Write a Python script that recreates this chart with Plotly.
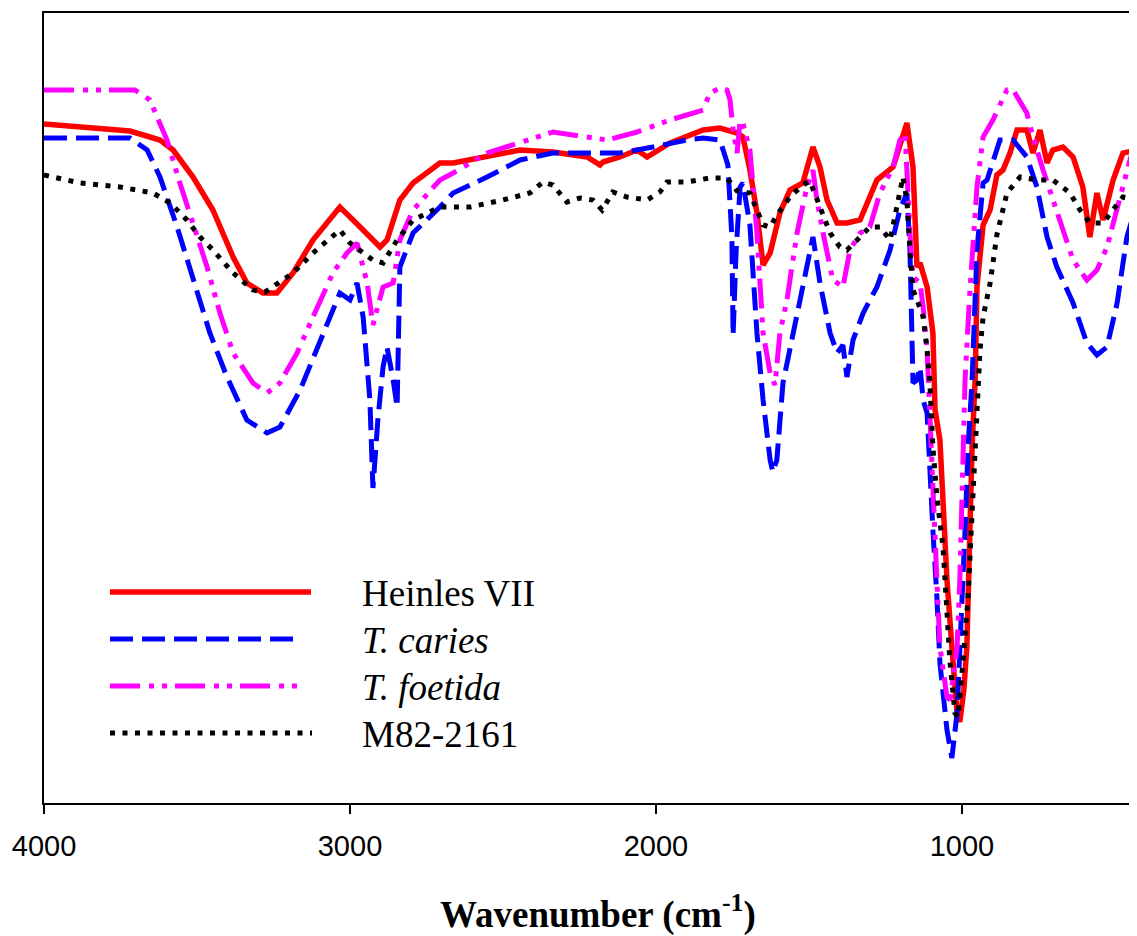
import plotly.graph_objects as go

# ---- data (wavenumber cm-1, relative transmittance) ----
heinles_x = [4000, 3817, 3719, 3654, 3621, 3578, 3513, 3448, 3382, 3337, 3284, 3239, 3186, 3121, 3033, 2967,
             2902, 2879, 2837, 2794, 2706, 2663, 2552, 2444, 2337, 2225, 2183, 2173, 2118, 2062, 2029, 1954,
             1846, 1791, 1735, 1716, 1693, 1670, 1650, 1627, 1595, 1562, 1520, 1487, 1464, 1441, 1408, 1376,
             1333, 1278, 1225, 1180, 1160, 1147, 1137, 1114, 1095, 1088, 1072, 1062, 1049, 1033, 1016, 1007,
             994, 984, 974, 967, 957, 951, 931, 908, 886, 866, 843, 820, 788, 768, 745, 722, 703, 670, 637,
             605, 582, 559, 539, 506, 474, 428]
heinles_y = [67.9, 67.5, 67.2, 66.6, 66.3, 65.3, 62.6, 59.3, 54.6, 52.0, 51.0, 51.0, 53.0, 56.3, 59.6, 57.6,
             55.6, 56.3, 60.3, 62.0, 64.0, 64.0, 64.6, 65.3, 65.1, 64.6, 63.8, 64.1, 64.6, 65.3, 64.6, 66.0,
             67.3, 67.5, 67.0, 66.6, 63.3, 59.0, 53.8, 55.0, 59.0, 61.3, 62.0, 65.6, 63.6, 60.3, 58.0, 58.0,
             58.3, 62.3, 63.6, 68.0, 63.6, 53.6, 54.0, 51.6, 47.0, 39.3, 36.3, 29.0, 22.3, 15.6, 9.0, 8.1,
             11.3, 15.6, 29.0, 35.6, 42.3, 51.6, 57.8, 59.3, 62.8, 63.3, 65.0, 67.3, 67.3, 65.0, 67.3, 64.0,
             65.3, 65.6, 64.6, 61.6, 56.6, 61.0, 58.3, 62.3, 65.0, 65.3]

caries_x = [4000, 3719, 3663, 3621, 3565, 3513, 3458, 3402, 3337, 3271, 3229, 3163, 3098, 3033, 3000, 2977,
            2957, 2935, 2925, 2909, 2892, 2879, 2859, 2846, 2837, 2794, 2706, 2663, 2552, 2444, 2337, 2118,
            2010, 1899, 1846, 1791, 1765, 1752, 1748, 1738, 1725, 1716, 1693, 1670, 1650, 1627, 1618, 1605,
            1585, 1552, 1520, 1487, 1464, 1431, 1408, 1389, 1376, 1356, 1323, 1278, 1235, 1203, 1180, 1170,
            1160, 1147, 1137, 1127, 1114, 1105, 1095, 1082, 1072, 1049, 1033, 1016, 1000, 990, 980, 967,
            951, 931, 918, 876, 833, 788, 755, 722, 690, 637, 592, 559, 526, 493, 461, 428]
caries_y = [66.5, 66.5, 65.3, 62.6, 57.6, 52.6, 47.0, 42.6, 38.3, 37.0, 37.6, 41.3, 46.3, 51.0, 50.3, 52.0,
            48.6, 40.3, 31.5, 38.3, 43.6, 45.6, 42.3, 39.6, 53.6, 57.0, 59.6, 61.0, 62.6, 64.3, 65.0, 65.0,
            65.6, 66.3, 66.5, 66.3, 63.8, 56.6, 46.8, 55.3, 61.6, 62.0, 57.8, 47.0, 40.3, 34.3, 33.1, 34.3,
            42.0, 47.0, 52.0, 56.6, 52.0, 47.0, 45.0, 45.8, 42.6, 46.3, 49.0, 51.6, 55.3, 59.3, 61.0, 55.3,
            42.0, 42.3, 43.6, 40.3, 39.0, 32.3, 27.3, 20.6, 14.0, 7.3, 4.5, 9.0, 19.0, 27.3, 35.6, 42.3,
            55.3, 62.0, 62.3, 66.3, 66.3, 64.6, 61.6, 56.6, 53.6, 50.0, 46.0, 44.8, 45.6, 50.0, 56.6, 60.0]

foetida_x = [4000, 3703, 3654, 3598, 3556, 3513, 3467, 3425, 3382, 3317, 3271, 3229, 3173, 3121, 3056, 3010,
             2977, 2944, 2925, 2892, 2859, 2837, 2794, 2706, 2663, 2552, 2444, 2337, 2225, 2160, 2062, 1954,
             1846, 1824, 1791, 1768, 1758, 1748, 1735, 1725, 1716, 1693, 1670, 1650, 1627, 1611, 1595, 1572,
             1539, 1507, 1487, 1474, 1454, 1422, 1389, 1366, 1333, 1301, 1268, 1225, 1203, 1186, 1170, 1160,
             1137, 1127, 1114, 1105, 1095, 1082, 1072, 1049, 1039, 1016, 1007, 1000, 997, 990, 974, 951, 931,
             899, 853, 833, 788, 768, 735, 690, 637, 592, 559, 526, 484, 451, 428]
foetida_y = [71.3, 71.3, 70.3, 66.3, 62.0, 58.0, 53.6, 49.0, 45.0, 42.0, 41.0, 42.0, 45.0, 48.6, 53.0, 55.0,
             56.0, 52.0, 47.8, 51.6, 52.0, 56.3, 59.3, 62.3, 63.0, 65.0, 66.0, 67.1, 66.6, 66.3, 67.1, 68.3,
             69.3, 71.0, 71.5, 71.3, 70.3, 67.3, 65.0, 68.3, 68.0, 65.3, 57.0, 47.0, 43.0, 41.8, 47.0, 50.3,
             57.0, 61.6, 63.3, 60.3, 57.0, 52.3, 51.6, 55.3, 57.0, 57.6, 61.0, 63.6, 66.3, 67.0, 57.0, 52.6,
             52.0, 49.6, 45.3, 38.3, 30.3, 22.3, 15.6, 10.6, 10.3, 15.6, 22.3, 29.0, 35.6, 42.3, 51.3, 61.6,
             66.6, 68.3, 71.3, 71.3, 69.0, 66.6, 63.3, 59.3, 54.3, 52.3, 53.3, 55.6, 60.6, 64.3, 66.6]

m82_x = [4000, 3882, 3752, 3644, 3588, 3533, 3490, 3448, 3382, 3317, 3278, 3252, 3186, 3121, 3056, 3033,
         3000, 2967, 2925, 2892, 2846, 2794, 2706, 2608, 2500, 2412, 2369, 2337, 2291, 2248, 2206, 2176,
         2141, 2095, 2029, 1987, 1964, 1899, 1824, 1768, 1735, 1693, 1670, 1650, 1627, 1605, 1562, 1520,
         1497, 1464, 1431, 1399, 1376, 1343, 1301, 1268, 1235, 1193, 1180, 1170, 1160, 1147, 1127, 1114,
         1105, 1095, 1082, 1062, 1049, 1039, 1023, 1013, 997, 980, 967, 957, 941, 931, 908, 886, 866, 853,
         810, 755, 703, 647, 614, 582, 539, 506, 474, 428]
m82_y = [62.8, 62.0, 61.6, 61.0, 60.0, 58.3, 56.6, 55.3, 53.0, 51.3, 51.1, 51.6, 53.0, 55.0, 56.6, 57.3,
         56.0, 55.3, 54.3, 54.0, 56.3, 58.3, 59.6, 59.6, 60.3, 61.0, 62.1, 61.8, 60.1, 60.5, 60.3, 59.3,
         61.1, 60.6, 60.3, 61.1, 62.1, 62.1, 62.5, 62.5, 61.2, 61.0, 59.1, 57.8, 57.6, 58.8, 60.6, 61.8,
         62.2, 59.6, 57.0, 55.6, 55.3, 56.3, 57.6, 57.6, 56.3, 62.6, 60.3, 55.3, 51.3, 50.3, 48.6, 45.3,
         42.0, 35.6, 30.6, 25.6, 19.0, 14.0, 9.0, 8.6, 14.0, 20.6, 29.0, 35.6, 45.3, 48.6, 52.0, 56.8,
         59.3, 61.0, 62.6, 62.3, 62.3, 61.0, 59.3, 58.0, 58.0, 59.3, 60.6, 60.3]

series_names = ["Heinles VII", "<i>T. caries</i>", "<i>T. foetida</i>", "M82-2161"]
series_colors = ["#ff0000", "#0000ff", "#ff00ff", "#000000"]
series_dash = ["solid", "23px,9px", "30px,9px,5px,8px,5px,8px", "5px,7.5px"]
series_width = [5.5, 5, 5, 5]
x_ticks = [4000, 3000, 2000, 1000]

# ---- figure (page body has an 8px margin, so the figure is 8px smaller) ----
OFF = 8
W, H = 1137 - OFF, 936 - OFF
L, R, T, B = 44 - OFF, 0, 13 - OFF, 133
fig = go.Figure()
data = [(heinles_x, heinles_y), (caries_x, caries_y), (foetida_x, foetida_y), (m82_x, m82_y)]
for (xs, ys), name, col, dsh, lw in zip(data, series_names, series_colors, series_dash, series_width):
    fig.add_trace(go.Scatter(x=xs, y=ys, mode="lines", name=name, showlegend=False,
                             line=dict(color=col, width=lw, dash=dsh)))

# manual legend (long sample lines like the original); positions in screen pixels
pw, ph = W - L - R, H - T - B
def px2x(px):
    return (px - OFF - L) / pw
def py2y(py):
    return (T + ph - (py - OFF)) / ph

leg_rows = [592, 639, 686, 733]
leg_ends = [311, 300, 300, 312]
for name, col, dsh, lw, py, xe in zip(series_names, series_colors, series_dash, series_width, leg_rows, leg_ends):
    fig.add_shape(type="line", xref="paper", yref="paper",
                  x0=px2x(110), x1=px2x(xe), y0=py2y(py), y1=py2y(py),
                  line=dict(color=col, width=lw, dash=dsh))
    fig.add_annotation(x=px2x(360), y=py2y(py + 1), xref="paper", yref="paper",
                       text=name, showarrow=False, xanchor="left", yanchor="middle",
                       font=dict(family="Liberation Serif", size=37, color="black"))

fig.add_annotation(x=px2x(598), y=py2y(912), xref="paper", yref="paper",
                   text="<b>Wavenumber (cm<sup>-1</sup>)</b>", showarrow=False,
                   xanchor="center", yanchor="middle",
                   font=dict(family="Liberation Serif", size=37, color="black"))

fig.update_layout(
    width=W, height=H,
    margin=dict(l=L, r=R, t=T, b=B),
    paper_bgcolor="white", plot_bgcolor="white",
    xaxis=dict(range=[4000, 428], tickvals=x_ticks, ticktext=[str(v) for v in x_ticks],
               ticks="outside", ticklen=9, tickwidth=2, tickcolor="black",
               showline=True, linecolor="black", linewidth=2, mirror=True,
               showgrid=False, zeroline=False, ticklabelstandoff=7,
               tickfont=dict(family="Liberation Sans", size=29, color="black")),
    yaxis=dict(range=[0, 79], showticklabels=False, ticks="",
               showline=True, linecolor="black", linewidth=2, mirror=False,
               showgrid=False, zeroline=False),
)
fig.write_html("out.html")
